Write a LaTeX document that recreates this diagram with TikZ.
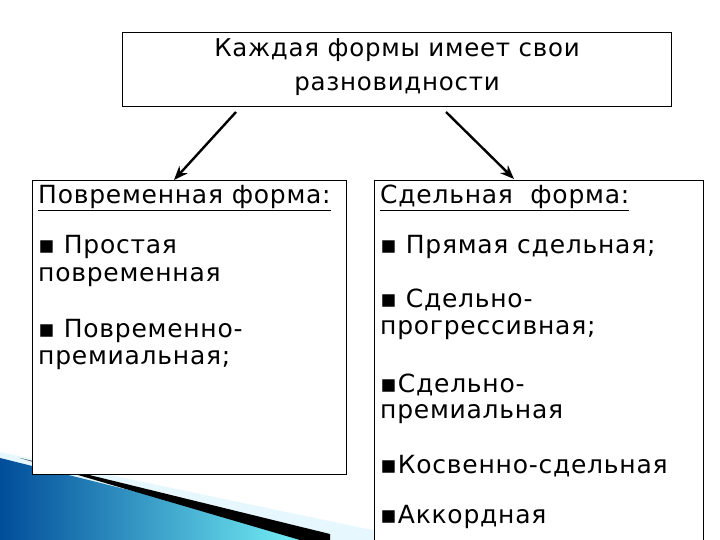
\documentclass[tikz,border=0pt]{standalone}
\usepackage{fontspec}
\setmainfont{DejaVu Sans}[LetterSpace=3]
\usetikzlibrary{arrows.meta}
\begin{document}
\begin{tikzpicture}[x=1pt,y=-1pt,
  box/.style={draw,line width=0.8pt},
  txt/.style={anchor=west,inner sep=0pt,font=\fontsize{25}{27}\selectfont},
  arr/.style={line width=2.4pt,-{Stealth[length=14pt,width=11pt]}}]
\useasboundingbox (0,0) rectangle (720,540);
% decoration
\fill[cyan!10!white] (0,452) -- (420,540) -- (0,540) -- cycle;
\shade[left color=cyan!50!blue!60!black, right color=cyan!50!white] (0,458) -- (330,540) -- (0,540) -- cycle;
\fill[black] (20,458) -- (330,534) -- (330,540) -- (300,540) -- cycle;
% boxes
\node[box,fill=white,minimum width=549pt,minimum height=74pt,anchor=north west] (top) at (122,32) {};
\node[align=center,font=\fontsize{24.5}{34}\selectfont] (toptxt) at (397,67) {Каждая формы имеет свои\\разновидности};
\node[box,fill=white,minimum width=314pt,minimum height=294pt,anchor=north west] (left) at (32,180) {};
\fill[white] (374,180) rectangle (703,540);
\coordinate (rb) at (374,540);
\coordinate (rt) at (374,180);
\coordinate (rt2) at (703,180);
\coordinate (rb2) at (703,540);
\draw[line width=0.8pt] (rb) -- (rt) -- (rt2) -- (rb2);
\coordinate (right) at (514,179);
% arrows
\coordinate (a1) at (236,112);
\coordinate (a2) at (446,112);
\draw[arr] (a1) -- (left.north -| 174,0);
\draw[arr] (a2) -- (right);
% left text
\node[txt] (l0) at (38,198) {\underline{Повременная форма:}};
\node[txt] (l1) at (38,247) {▪ Простая};
\node[txt] (l2) at (38,277) {повременная};
\node[txt] (l3) at (38,331) {▪ Повременно-};
\node[txt] (l4) at (38,360) {премиальная;};
% right text
\node[txt] (r0) at (380,198) {\underline{Сдельная\ \ форма:}};
\node[txt] (r1) at (380,247) {▪ Прямая сдельная;};
\node[txt] (r2) at (380,300) {▪ Сдельно-};
\node[txt] (r3) at (380,330) {прогрессивная;};
\node[txt] (r4) at (380,385) {▪Сдельно-};
\node[txt] (r5) at (380,414) {премиальная};
\node[txt] (r6) at (380,466) {▪Косвенно-сдельная};
\node[txt] (r7) at (380,517) {▪Аккордная};
\end{tikzpicture}
\end{document}
